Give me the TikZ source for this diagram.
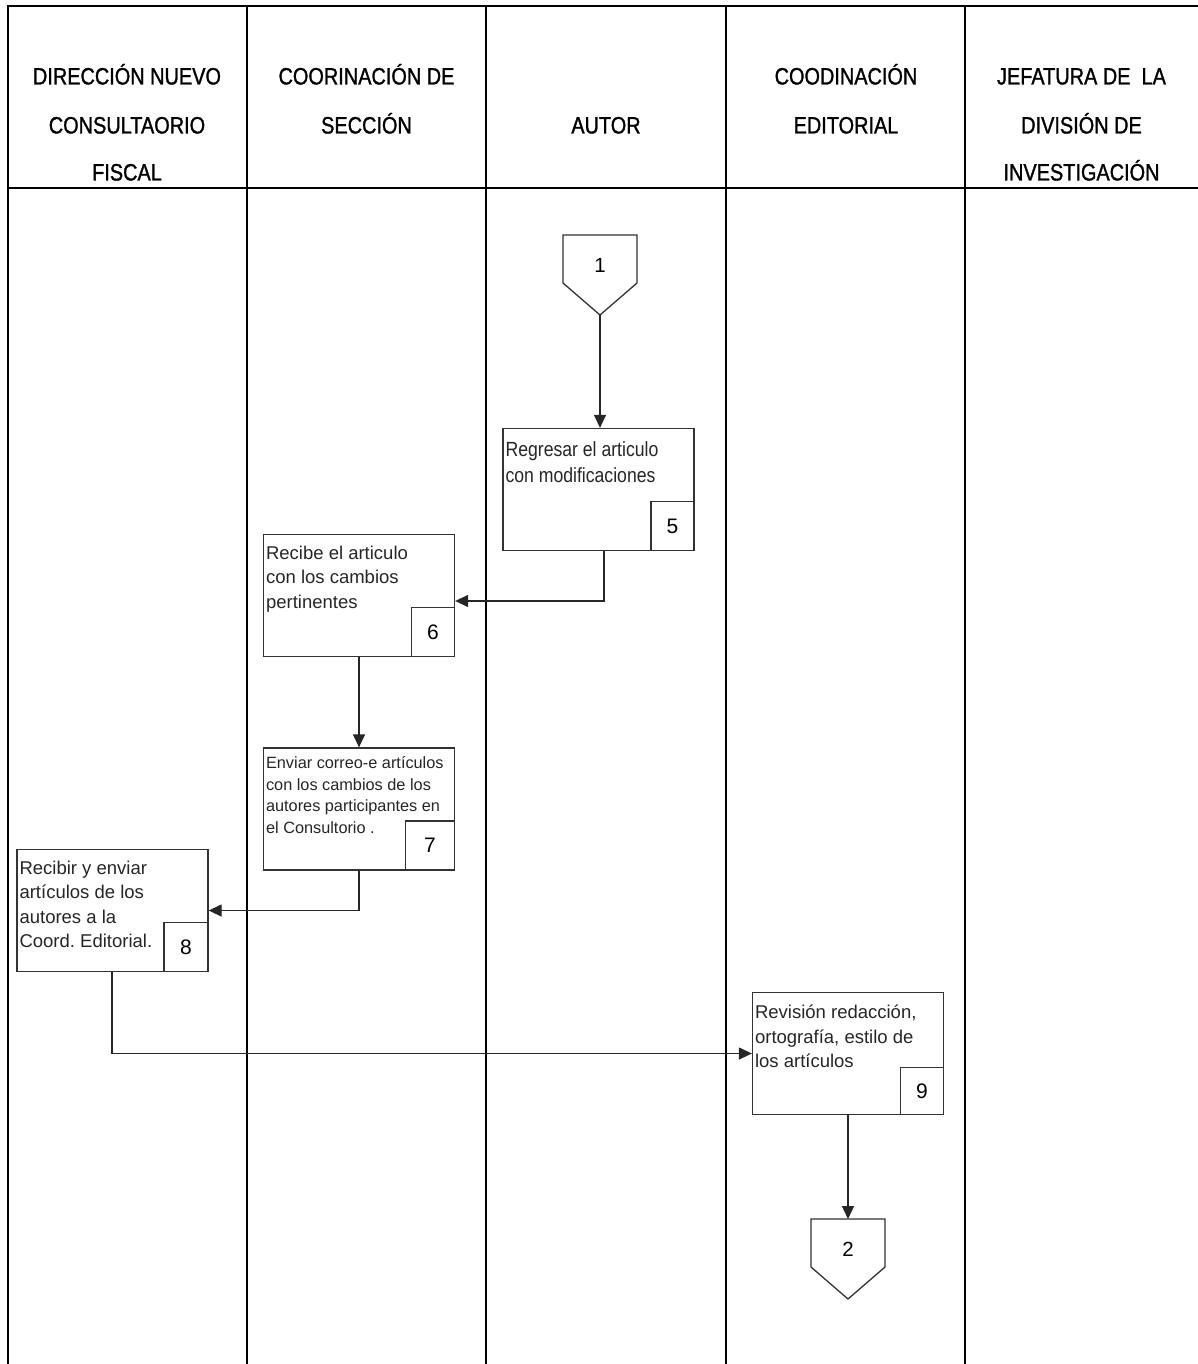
\documentclass[tikz,border=0pt]{standalone}
\usepackage{fontspec}
\setmainfont{Liberation Sans}
\newfontfamily\narrowfont{Liberation Sans}[FakeStretch=0.86]
\newfontfamily\headfont{Liberation Sans}[FakeStretch=0.84,FakeBold=1.2]
\usetikzlibrary{arrows.meta}
\frenchspacing

\begin{document}
\begin{tikzpicture}[x=1pt, y=-1pt,
    lane/.style={line width=2pt},
    hdr/.style={font=\headfont\fontsize{23.7}{28}\selectfont, anchor=base, inner sep=0pt},
    proc/.style={draw=black!80, line width=1.3pt, minimum width=191pt, minimum height=122pt, inner sep=0pt},
    numbox/.style={draw=black!80, line width=1.3pt, minimum width=43pt, minimum height=49pt, inner sep=0pt,
        anchor=south east, font=\fontsize{21}{22}\selectfont},
    desc/.style={anchor=north west, align=left, inner xsep=3pt, inner ysep=0pt, yshift=-12pt,
        text=black!85, font=\fontsize{18.5}{24.5}\selectfont},
    offpage/.style={draw=black!80, line width=1.3pt},
    flow/.style={line width=1.3pt, draw=black!85, -{Triangle[length=13pt,width=12pt]}}]
    \useasboundingbox (0,0) rectangle (1198,1364);

    % swimlanes
    \draw[lane] (7.5,1364) -- (7.5,6) -- (1198,6);
    \draw[lane] (7.5,188) -- (1198,188);
    \foreach \x in {247,486,726,965}
        \draw[lane] (\x,6) -- (\x,1364);

    \foreach \x/\y/\t [count=\i] in {127/84.5/DIRECCIÓN NUEVO, 127/133.5/CONSULTAORIO, 127/180.5/FISCAL,
            366.5/84.5/COORINACIÓN DE, 366.5/133.5/SECCIÓN, 606/133.5/AUTOR,
            846/84.5/COODINACIÓN, 846/133.5/EDITORIAL,
            1081.5/84.5/JEFATURA DE~ LA, 1081.5/133.5/DIVISIÓN DE, 1081.5/180.5/INVESTIGACIÓN}
        \node[hdr] (h\i) at (\x,\y) {\t};

    % off-page connectors
    \foreach \n/\x/\y in {1/600/235, 2/848/1219} {
        \draw[offpage] (\x-37,\y) -- (\x+37,\y) -- (\x+37,\y+48) -- (\x,\y+80) -- (\x-37,\y+48) -- cycle;
        \node[font=\fontsize{20.5}{21}\selectfont] (off\n) at (\x,\y+30) {\n};
        \coordinate (top\n) at (\x,\y);
        \coordinate (tip\n) at (\x,\y+80);
    }

    % steps
    \node[proc] (b5) at (598.5,489.5) {};
    \node[desc, yshift=-1.5pt, font=\narrowfont\fontsize{20.5}{26}\selectfont] (t5) at (b5.north west)
        {Regresar el articulo\\con modificaciones};
    \node[numbox] (n5) at (b5.south east) {5};

    \node[proc] (b6) at (359,595.5) {};
    \node[desc] (t6) at (b6.north west) {Recibe el articulo\\con los cambios\\pertinentes};
    \node[numbox] (n6) at (b6.south east) {6};

    \node[proc] (b7) at (359,809) {};
    \node[desc, yshift=3pt, font=\fontsize{16.3}{21.5}\selectfont] (t7) at (b7.north west)
        {Enviar correo-e artículos\\con los cambios de los\\autores participantes en\\el Consultorio .};
    \node[numbox, minimum width=49pt] (n7) at (b7.south east) {7};

    \node[proc] (b8) at (112.5,910.5) {};
    \node[desc] (t8) at (b8.north west) {Recibir y enviar\\artículos de los\\autores a la\\Coord. Editorial.};
    \node[numbox, minimum width=44pt] (n8) at (b8.south east) {8};

    \node[proc] (b9) at (848,1053.5) {};
    \node[desc, yshift=-1pt] (t9) at (b9.north west) {Revisión redacción,\\ortografía, estilo de\\los artículos};
    \node[numbox, minimum height=47pt] (n9) at (b9.south east) {9};

    % connectors
    \draw[flow] (tip1) -- (tip1 |- b5.north);
    \draw[flow] ([xshift=5.5pt]b5.south) |- ([yshift=-5.5pt]b6.east);
    \draw[flow] (b6.south) -- (b7.north);
    \draw[flow] (b7.south) |- (b8.east);
    \draw[flow] ([xshift=-0.5pt]b8.south) |- (b9.west);
    \draw[flow] (b9.south) -- (top2);
\end{tikzpicture}
\end{document}
